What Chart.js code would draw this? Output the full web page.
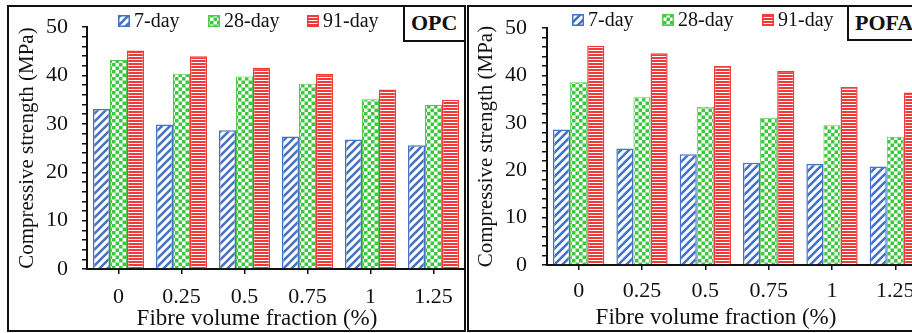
<!DOCTYPE html>
<html>
<head>
<meta charset="utf-8">
<script src="https://cdn.jsdelivr.net/npm/chart.js@4.4.1/dist/chart.umd.min.js"></script>
<style>
  html,body{margin:0;padding:0;background:#fff;}
  #wrap{position:relative;width:912px;height:333px;overflow:hidden;background:#fff;font-family:"Liberation Serif","Times New Roman",serif;color:#111;}
  .panel{position:absolute;box-sizing:border-box;border:2px solid #111;}
  .tag{position:absolute;box-sizing:border-box;border:2px solid #111;font-weight:bold;font-size:22px;line-height:32px;padding-left:6px;background:#fff;}
  .xt{position:absolute;font-size:23px;white-space:nowrap;transform:translate(-50%,-50%);}
  canvas{position:absolute;top:0;}
</style>
</head>
<body>
<div id="wrap">
  <div class="panel" style="left:7px;top:5px;width:459px;height:327px;"></div>
  <div class="panel" style="left:467px;top:5px;width:470px;height:327px;"></div>
  <canvas id="c1" width="466" height="333" style="left:0px;"></canvas>
  <canvas id="c2" width="460" height="333" style="left:467px;"></canvas>
  <div class="tag" style="left:403px;top:5px;width:63px;height:37px;">OPC</div>
  <div class="tag" style="left:847px;top:5px;width:100px;height:36px;">POFA</div>
  <div class="xt" style="left:257px;top:318px;">Fibre volume fraction (%)</div>
  <div class="xt" style="left:716px;top:317px;">Fibre volume fraction (%)</div>
</div>
<script>
// ---- data ----
const categories = ['0', '0.25', '0.5', '0.75', '1', '1.25'];
const seriesNames = ['7-day', '28-day', '91-day'];
const opc7  = [33.1, 29.9, 28.7, 27.4, 26.8, 25.6];
const opc28 = [43.2, 40.4, 39.8, 38.3, 35.1, 33.9];
const opc91 = [45.2, 44.0, 41.6, 40.3, 37.1, 35.0];
const pofa7  = [28.6, 24.6, 23.4, 21.6, 21.3, 20.8];
const pofa28 = [38.6, 35.4, 33.4, 31.1, 29.5, 27.1];
const pofa91 = [46.3, 44.7, 42.0, 41.0, 37.6, 36.4];
const yLabelTicks = [0, 10, 20, 30, 40, 50];
const yAxisTitle = 'Compressive strength (MPa)';

// ---- styles ----
const BLUE = '#4472C4', GREEN = '#3CC83C', RED = '#F03A3A';
function makePattern(kind) {
  const c = document.createElement('canvas');
  let ctx;
  if (kind === 'diag') {
    c.width = 8; c.height = 8; ctx = c.getContext('2d');
    ctx.fillStyle = '#fff'; ctx.fillRect(0, 0, 8, 8);
    ctx.strokeStyle = BLUE; ctx.lineWidth = 2.6; ctx.beginPath();
    ctx.moveTo(-2, 10); ctx.lineTo(10, -2);
    ctx.moveTo(-2, 2); ctx.lineTo(2, -2);
    ctx.moveTo(6, 10); ctx.lineTo(10, 6);
    ctx.stroke();
  } else if (kind === 'check') {
    c.width = 7; c.height = 7; ctx = c.getContext('2d');
    ctx.fillStyle = '#fff'; ctx.fillRect(0, 0, 7, 7);
    ctx.fillStyle = GREEN; ctx.fillRect(0, 0, 3.5, 3.5); ctx.fillRect(3.5, 3.5, 3.5, 3.5);
  } else {
    c.width = 4; c.height = 3; ctx = c.getContext('2d');
    ctx.fillStyle = RED; ctx.fillRect(0, 0, 4, 3);
    ctx.fillStyle = '#fff'; ctx.fillRect(0, 2, 4, 1);
  }
  return document.createElement('canvas').getContext('2d').createPattern(c, 'repeat');
}
const pats = [makePattern('diag'), makePattern('check'), makePattern('hline')];
const borders = [BLUE, '#4FCC4F', RED];

const legendPlugin = {
  id: 'panelLegend',
  afterDraw(chart, args, opts) {
    const ctx = chart.ctx;
    ctx.save();
    ctx.font = '20px "Liberation Serif"';
    ctx.textBaseline = 'middle';
    seriesNames.forEach((name, i) => {
      const x = opts.xs[i], y = opts.y;
      ctx.fillStyle = pats[i];
      ctx.fillRect(x, y - 6, 12, 12);
      ctx.strokeStyle = borders[i]; ctx.lineWidth = 1.5;
      ctx.strokeRect(x + 0.75, y - 5.25, 10.5, 10.5);
      ctx.fillStyle = '#111';
      ctx.fillText(name, x + 16, y + 1);
    });
    ctx.restore();
  }
};

function makeChart(id, d7, d28, d91, cfg) {
  const data = {
    labels: categories,
    datasets: [d7, d28, d91].map((d, i) => ({
      label: seriesNames[i], data: d,
      backgroundColor: pats[i], borderColor: borders[i],
      borderWidth: i === 1 ? 1 : 1.5,
      categoryPercentage: 0.81, barPercentage: 1.0
    }))
  };
  return new Chart(document.getElementById(id), {
    type: 'bar',
    data,
    plugins: [legendPlugin],
    options: {
      responsive: false, animation: false,
      layout: { padding: { left: 0, top: cfg.top, right: cfg.right, bottom: 0 } },
      plugins: { legend: { display: false }, tooltip: { enabled: false },
        panelLegend: { xs: cfg.legendXs, y: cfg.legendY } },
      scales: {
        x: {
          afterFit: s => { s.height = cfg.xh; },
          border: { color: '#111', width: 2 },
          grid: { drawOnChartArea: false, offset: false, tickLength: 5, color: '#111', lineWidth: 1.5 },
          ticks: { color: '#111', font: { family: 'Liberation Serif', size: 22 }, padding: cfg.xpad, autoSkip: false, maxRotation: 0 }
        },
        y: {
          min: 0, max: 50,
          afterFit: s => { s.width = cfg.yw; },
          border: { color: '#111', width: 2 },
          grid: { drawOnChartArea: false, tickLength: 5, color: '#111', lineWidth: 1.5 },
          ticks: { stepSize: 2, autoSkip: false, color: '#111', padding: cfg.ypad,
            font: { family: 'Liberation Serif', size: 22 },
            callback: v => yLabelTicks.includes(v) ? String(v) : '' },
          title: { display: true, text: yAxisTitle, color: '#111',
            font: { family: 'Liberation Serif', size: 21 }, padding: { top: cfg.tpad, bottom: 0 } }
        }
      }
    }
  });
}

makeChart('c1', opc7, opc28, opc91, { top: 20, right: 1, xh: 64, yw: 87, xpad: 10, ypad: 14, tpad: 15, legendXs: [118, 208, 307], legendY: 21 });
makeChart('c2', pofa7, pofa28, pofa91, { top: 19, right: 0, xh: 68, yw: 80, xpad: 8, ypad: 15, tpad: 7, legendXs: [105, 195, 295], legendY: 20 });
</script>
</body>
</html>
